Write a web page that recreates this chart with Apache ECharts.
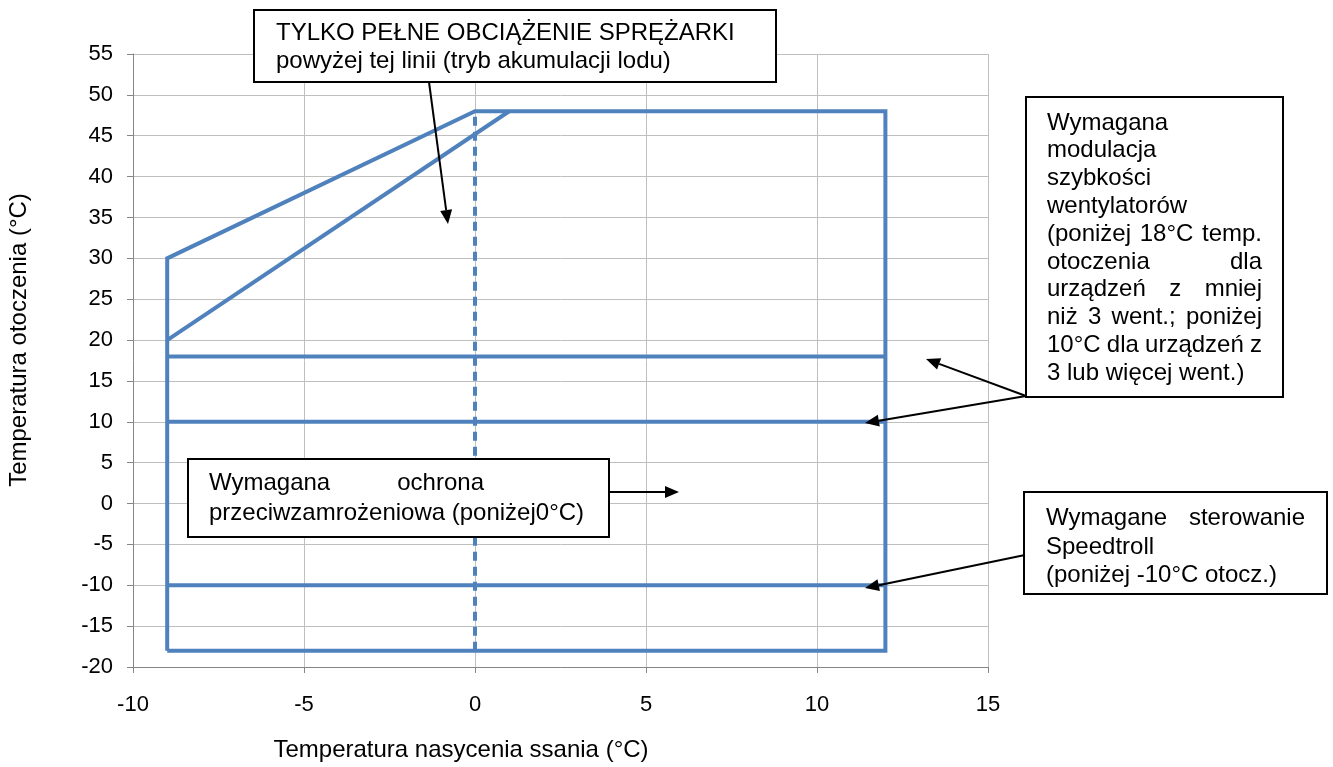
<!DOCTYPE html>
<html><head><meta charset="utf-8">
<script src="https://cdn.jsdelivr.net/npm/echarts@6/dist/echarts.min.js"></script>
<style>html,body{margin:0;padding:0;background:#fff}#c{width:1333px;height:767px}</style>
</head><body><div id="c"></div>
<script>
// ---- data ----
const xTickMin = -10, xTickMax = 15, xTickStep = 5;
const yTickMin = -20, yTickMax = 55, yTickStep = 5;
const envelopeX = [-9, -9, 0, 12, 12, -9];
const envelopeY = [-18, 30, 48, 48, -18, -18];
const fullLoadX = [-9, 1];
const fullLoadY = [20, 48];
const fan18X = [-9, 12];
const fan18Y = [18, 18];
const fan10X = [-9, 12];
const fan10Y = [10, 10];
const speedX = [-9, 12];
const speedY = [-10, -10];
const zeroX = [0, 0];
const zeroY = [-18, 48];
const xTitle = 'Temperatura nasycenia ssania (°C)';
const yTitle = 'Temperatura otoczenia (°C)';

const zip = (xs, ys) => xs.map((x, i) => [x, ys[i]]);
const BLUE = '#4f81bd';
const FONT = '"Liberation Sans", Arial, sans-serif';
const FS = 24;

function lineSeries(xs, ys, dashed) {
  return {
    type: 'line', data: zip(xs, ys), symbol: 'none', animation: false,
    lineStyle: { color: BLUE, width: 4, type: dashed ? [9, 6] : 'solid', cap: 'butt', join: 'miter' },
    z: 3
  };
}

const chart = echarts.init(document.getElementById('c'), null, { renderer: 'canvas' });

const mctx = document.createElement('canvas').getContext('2d');
mctx.font = FS + 'px ' + FONT;
const tw = s => mctx.measureText(s).width;

const gfx = [];
function box(x, y, w, h) {
  gfx.push({ type: 'rect', shape: { x: x, y: y, width: w, height: h },
    style: { fill: '#fff', stroke: '#000', lineWidth: 2 }, z: 10 });
}
function text(s, x, y, align) {
  gfx.push({ type: 'text', x: x, y: y, style: { text: s, font: FS + 'px ' + FONT, fill: '#000',
    textAlign: align || 'left', textVerticalAlign: 'middle' }, z: 11 });
}
function justified(s, x1, x2, y) {
  const words = s.split(' ');
  if (words.length === 1) { text(s, x1, y); return; }
  const total = words.reduce((a, w) => a + tw(w), 0);
  const gap = (x2 - x1 - total) / (words.length - 1);
  let cx = x1;
  words.forEach(w => { text(w, cx, y); cx += tw(w) + gap; });
}
function arrow(x1, y1, x2, y2) {
  const ang = Math.atan2(y2 - y1, x2 - x1);
  const L = 14, W = 6;
  const bx = x2 - L * Math.cos(ang), by = y2 - L * Math.sin(ang);
  gfx.push({ type: 'line', shape: { x1, y1, x2: bx, y2: by }, style: { stroke: '#000', lineWidth: 2 }, z: 12 });
  const px = -Math.sin(ang) * W, py = Math.cos(ang) * W;
  gfx.push({ type: 'polygon', shape: { points: [[x2, y2], [bx + px, by + py], [bx - px, by - py]] },
    style: { fill: '#000' }, z: 12 });
}

// top box
box(254, 10, 522, 72);
text('TYLKO PEŁNE OBCIĄŻENIE SPRĘŻARKI', 276, 33);
text('powyżej tej linii (tryb akumulacji lodu)', 276, 61);
arrow(429, 82, 448, 224);

// right box
box(1026, 97, 257, 300);
const rx1 = 1047, rx2 = 1262;
const rLines = [
  ['Wymagana', false], ['modulacja', false], ['szybkości', false], ['wentylatorów', false],
  ['(poniżej 18°C temp.', true], ['otoczenia dla', true], ['urządzeń z mniej', true],
  ['niż 3 went.; poniżej', true], ['10°C dla urządzeń z', true], ['3 lub więcej went.)', false]
];
rLines.forEach((l, i) => {
  const y = 123 + i * 27.8;
  if (l[1]) justified(l[0], rx1, rx2, y); else text(l[0], rx1, y);
});
arrow(1026, 396, 926, 359);
arrow(1026, 396, 865, 423);

// middle box
box(188, 459, 421, 78);
justified('Wymagana ochrona', 209, 484, 483);
text('przeciwzamrożeniowa (poniżej0°C)', 209, 513);
arrow(609, 492, 679, 492);

// bottom-right box
box(1024, 492, 303, 102);
justified('Wymagane sterowanie', 1046, 1305, 518);
text('Speedtroll', 1046, 547);
text('(poniżej -10°C otocz.)', 1046, 575);
arrow(1025, 555, 865, 588);

// axis titles
gfx.push({ type: 'text', x: 461, y: 750, style: { text: xTitle, font: FS + 'px ' + FONT, fill: '#000',
  textAlign: 'center', textVerticalAlign: 'middle' }, z: 5 });
gfx.push({ type: 'text', x: 19, y: 340, rotation: Math.PI / 2, style: { text: yTitle, font: FS + 'px ' + FONT, fill: '#000',
  textAlign: 'center', textVerticalAlign: 'middle' }, z: 5 });

chart.setOption({
  animation: false,
  backgroundColor: '#fff',
  grid: { left: 133, right: 345, top: 54, bottom: 100, containLabel: false },
  xAxis: {
    type: 'value', min: xTickMin, max: xTickMax, interval: xTickStep,
    axisLine: { show: true, onZero: false, lineStyle: { color: '#868686', width: 1 } },
    axisTick: { show: true, inside: false, length: 6, lineStyle: { color: '#868686' } },
    splitLine: { show: true, lineStyle: { color: '#bfbfbf', width: 1 } },
    axisLabel: { margin: 27, fontSize: 22, color: '#000', fontFamily: FONT }
  },
  yAxis: {
    type: 'value', min: yTickMin, max: yTickMax, interval: yTickStep,
    axisLine: { show: true, onZero: false, lineStyle: { color: '#868686', width: 1 } },
    axisTick: { show: true, inside: false, length: 6, lineStyle: { color: '#868686' } },
    splitLine: { show: true, lineStyle: { color: '#bfbfbf', width: 1 } },
    axisLabel: { margin: 20, fontSize: 22, color: '#000', fontFamily: FONT }
  },
  series: [
    lineSeries(envelopeX, envelopeY),
    lineSeries(fullLoadX, fullLoadY),
    lineSeries(fan18X, fan18Y),
    lineSeries(fan10X, fan10Y),
    lineSeries(speedX, speedY),
    lineSeries(zeroX, zeroY, true)
  ],
  graphic: gfx
});
</script></body></html>
